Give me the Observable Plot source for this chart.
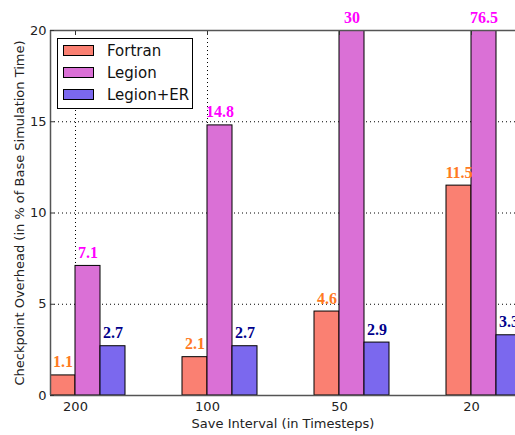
<!DOCTYPE html>
<html>
<head>
<meta charset="utf-8">
<script src="https://cdn.jsdelivr.net/npm/d3@7"></script>
<script src="https://cdn.jsdelivr.net/npm/@observablehq/plot@0.6"></script>
<style>
  html, body { margin: 0; padding: 0; background: #fff; overflow: hidden; }
  #wrap { position: relative; width: 515px; height: 435px; overflow: hidden; }
  #wrap svg { overflow: hidden; }
  .legend { position: absolute; left: 57px; top: 38px; width: 134px; height: 69px;
    border: 1px solid #000; background: #fff; font-family: "DejaVu Sans", sans-serif; font-size: 15px; color: #111; }
  .legend .row { position: absolute; left: 5px; height: 14px; display: flex; align-items: center; }
  .legend .sw { width: 29px; height: 9px; border: 1px solid #000; margin-right: 13px; }
</style>
</head>
<body>
<div id="wrap"></div>
<script>
const intervals = ["200", "100", "50", "20"];
const series = ["Fortran", "Legion", "Legion+ER"];
const fortran = [1.1, 2.1, 4.6, 11.5];
const legion = [7.1, 14.8, 30, 76.5];
const legionER = [2.7, 2.7, 2.9, 3.3];
const yTicks = [0, 5, 10, 15, 20];
const fillColors = ["#FA8072", "#DA70D6", "#7B68EE"];
const labelColors = ["#FF7A1F", "#FF00FF", "#00008B"];

const yMax = 20;
const w = 25 / 132;
const xMin = -w;
const xMax = 440 / 132;
const xTicks = intervals.map((_, i) => i);

const valuesBySeries = [fortran, legion, legionER];
const data = [];
series.forEach((s, si) => {
  valuesBySeries[si].forEach((v, i) => {
    data.push({series: s, si, i, value: v, x1: i + (si - 1) * w, x2: i + si * w});
  });
});

const chart = Plot.plot({
  width: 515,
  height: 435,
  marginLeft: 50,
  marginRight: 0,
  marginTop: 30,
  marginBottom: 40,
  style: {fontFamily: "DejaVu Sans, sans-serif", fontSize: "13px", color: "#222", background: "#fff"},
  x: {type: "linear", domain: [xMin, xMax]},
  y: {domain: [0, yMax]},
  marks: [
    Plot.gridX(xTicks, {stroke: "#000", strokeOpacity: 1, strokeDasharray: "1,3"}),
    Plot.gridY([5, 10, 15], {stroke: "#000", strokeOpacity: 1, strokeDasharray: "1,3"}),
    Plot.rectY(data, {
      x1: "x1", x2: "x2", y1: 0, y2: "value",
      fill: d => fillColors[d.si], stroke: "#000", strokeWidth: 1, clip: true
    }),
    Plot.ruleY([0, yMax], {stroke: "#555", strokeWidth: 1.5}),
    Plot.ruleX([xMin], {stroke: "#555", strokeWidth: 1.5}),
    // inward tick marks (classic style)
    Plot.axisY(yTicks, {anchor: "left", tickSize: 4, dx: 4, text: null, label: null, stroke: "#333"}),
    Plot.axisX(xTicks, {anchor: "top", tickSize: 4, dy: 4, text: null, label: null, stroke: "#333"}),
    Plot.axisY(yTicks, {tickSize: 0, tickPadding: 4, fontSize: 13,
      label: "Checkpoint Overhead (in % of Base Simulation Time)", labelArrow: "none",
      labelAnchor: "center", labelOffset: 36}),
    Plot.axisX(xTicks, {tickSize: 0, tickPadding: 6, fontSize: 13, tickFormat: i => intervals[i],
      label: "Save Interval (in Timesteps)", labelArrow: "none", labelAnchor: "center", labelOffset: 32}),
    Plot.text(data, {
      x: d => (d.x1 + d.x2) / 2, y: d => Math.min(d.value, yMax), text: d => String(d.value),
      fill: d => labelColors[d.si], dy: -8, lineAnchor: "bottom",
      fontFamily: "Liberation Serif, serif", fontWeight: "bold", fontSize: 16
    })
  ]
});

const wrap = document.getElementById("wrap");
wrap.appendChild(chart);

const legend = document.createElement("div");
legend.className = "legend";
series.forEach((s, si) => {
  const row = document.createElement("div");
  row.className = "row";
  row.style.top = (4.5 + si * 22) + "px";
  const sw = document.createElement("div");
  sw.className = "sw";
  sw.style.background = fillColors[si];
  const t = document.createElement("span");
  t.textContent = s;
  row.appendChild(sw);
  row.appendChild(t);
  legend.appendChild(row);
});
wrap.appendChild(legend);
</script>
</body>
</html>
